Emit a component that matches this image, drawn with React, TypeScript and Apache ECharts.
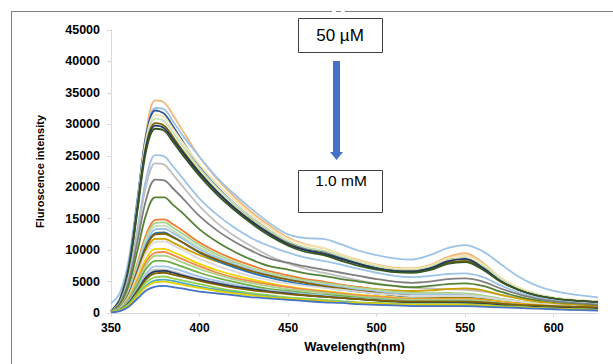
import React, { useEffect, useRef } from "react";
import * as echarts from "echarts";

const wavelengths = [350, 355, 360, 365, 370, 375, 380, 385, 390, 400, 410, 420, 430, 440, 450, 460, 470, 480, 490, 500, 510, 520, 530, 540, 550, 560, 570, 580, 590, 600, 610, 625];

const xTicks = [350, 400, 450, 500, 550, 600];

const s01 = [300, 2000, 7000, 17500, 29000, 33800, 33500, 31500, 29200, 24800, 21300, 18400, 15900, 13800, 12000, 10900, 10300, 9300, 8400, 7700, 7200, 7100, 7600, 8900, 9500, 8000, 5600, 4000, 3000, 2400, 2100, 1700];
const s02 = [1500, 3200, 8500, 18500, 28500, 32600, 32400, 30500, 28400, 24800, 21500, 18800, 16400, 14200, 12500, 11900, 11800, 10900, 9900, 9200, 8700, 8500, 9200, 10300, 10800, 9800, 7800, 5800, 4400, 3500, 3000, 2500];
const s03 = [300, 2200, 7500, 18000, 28500, 32200, 31700, 29700, 27500, 23300, 20000, 17300, 15000, 13000, 11300, 10300, 9800, 8800, 7900, 7200, 6800, 6700, 7200, 8400, 8700, 7100, 5100, 3800, 2900, 2400, 2100, 1800];
const s04 = [300, 2100, 7300, 17600, 27900, 31500, 31100, 29300, 27300, 23600, 20500, 17900, 15500, 13500, 11800, 10800, 10300, 9300, 8300, 7600, 7100, 7000, 7500, 8700, 9100, 7800, 5600, 4100, 3100, 2500, 2200, 1800];
const s05 = [300, 2000, 7000, 17000, 27300, 30900, 30500, 28700, 26700, 23000, 19900, 17300, 15000, 13000, 11400, 10400, 9900, 9000, 8100, 7400, 6900, 6800, 7300, 8400, 8700, 7500, 5400, 3900, 3000, 2400, 2100, 1700];
const s06 = [300, 2000, 7000, 16800, 26800, 30200, 29800, 28000, 26000, 22400, 19300, 16700, 14500, 12600, 11000, 10000, 9500, 8600, 7800, 7100, 6700, 6600, 7000, 8000, 8300, 7000, 5000, 3700, 2800, 2300, 2000, 1700];
const s07 = [300, 2100, 7200, 17000, 26600, 29800, 29400, 27600, 25700, 22200, 19200, 16600, 14400, 12500, 10900, 10000, 9400, 8600, 7800, 7100, 6700, 6600, 7100, 8200, 8600, 7200, 5100, 3700, 2800, 2300, 2000, 1700];
const s08 = [300, 1900, 6800, 16400, 26000, 29300, 29000, 27200, 25300, 21800, 18800, 16300, 14100, 12200, 10700, 9700, 9200, 8300, 7500, 6900, 6500, 6400, 6800, 7800, 8100, 6900, 5000, 3700, 2800, 2300, 2000, 1700];
const s09 = [300, 1700, 5800, 13500, 21500, 25100, 24900, 23300, 21600, 18200, 15600, 13500, 11800, 10600, 9600, 8800, 8300, 7700, 7000, 6400, 5900, 5700, 5900, 6200, 6300, 5700, 4400, 3300, 2500, 2000, 1700, 1400];
const s10 = [300, 1600, 5500, 12800, 20400, 23800, 23600, 22000, 20300, 17000, 14300, 12200, 10500, 9000, 7900, 7000, 6400, 5800, 5200, 4700, 4300, 4000, 3900, 3800, 3700, 3400, 2900, 2400, 2000, 1700, 1500, 1300];
const s11 = [300, 1500, 5000, 11500, 18200, 21200, 21100, 19800, 18400, 15400, 13100, 11300, 9800, 8600, 8000, 7400, 6900, 6400, 5900, 5400, 5000, 4800, 5000, 5400, 5500, 5000, 3900, 3000, 2300, 1900, 1600, 1300];
const s12 = [200, 1300, 4400, 10000, 15800, 18400, 18400, 17200, 16000, 13300, 11300, 9700, 8400, 7400, 6900, 6300, 5900, 5400, 5000, 4600, 4300, 4100, 4300, 4600, 4700, 4300, 3400, 2600, 2000, 1600, 1400, 1100];
const s13 = [200, 900, 2900, 6500, 10100, 11800, 11800, 11200, 10500, 9200, 8200, 7300, 6600, 6000, 5500, 5100, 4800, 4400, 4100, 3800, 3600, 3500, 3600, 3800, 3900, 3600, 2900, 2300, 1800, 1500, 1300, 1100];
const s14 = [200, 1000, 3500, 8000, 12600, 14800, 14900, 14100, 13200, 11200, 9700, 8500, 7500, 6600, 6000, 5400, 5000, 4500, 4100, 3700, 3400, 3200, 3100, 3000, 2900, 2600, 2200, 1800, 1500, 1300, 1100, 900];
const s15 = [200, 1000, 3400, 7700, 12200, 14300, 14400, 13600, 12700, 10800, 9300, 8100, 7100, 6300, 5700, 5200, 4800, 4400, 4000, 3700, 3400, 3200, 3200, 3200, 3100, 2800, 2300, 1900, 1500, 1300, 1100, 900];
const s16 = [200, 900, 3200, 7400, 11700, 13800, 13900, 13100, 12200, 10400, 9000, 7800, 6900, 6100, 5500, 5000, 4600, 4200, 3800, 3500, 3200, 3000, 3000, 3000, 2900, 2600, 2200, 1800, 1500, 1200, 1000, 800];
const s17 = [200, 900, 3100, 7100, 11300, 13300, 13400, 12700, 11900, 10100, 8800, 7700, 6800, 6000, 5400, 4900, 4500, 4100, 3700, 3400, 3100, 2900, 2900, 2900, 2800, 2500, 2100, 1700, 1400, 1200, 1000, 800];
const s18 = [200, 900, 3000, 6800, 10800, 12700, 12800, 12100, 11300, 9600, 8300, 7200, 6300, 5600, 5000, 4500, 4100, 3700, 3400, 3100, 2800, 2600, 2600, 2600, 2500, 2300, 1900, 1600, 1300, 1100, 900, 700];
const s19 = [200, 900, 2900, 6700, 10600, 12500, 12600, 12000, 11300, 9700, 8500, 7500, 6600, 5900, 5300, 4800, 4300, 3900, 3500, 3200, 2900, 2700, 2600, 2500, 2400, 2200, 1900, 1600, 1400, 1200, 1100, 1000];
const s20 = [200, 800, 2700, 6200, 9700, 11300, 11400, 10800, 10100, 8600, 7500, 6600, 5800, 5200, 4700, 4300, 4000, 3700, 3400, 3100, 2900, 2700, 2700, 2700, 2700, 2500, 2100, 1800, 1500, 1300, 1100, 900];
const s21 = [200, 700, 2400, 5500, 8700, 10200, 10200, 9700, 9100, 7800, 6800, 6000, 5300, 4700, 4200, 3800, 3500, 3200, 2900, 2700, 2500, 2300, 2300, 2300, 2300, 2100, 1800, 1500, 1300, 1100, 900, 800];
const s22 = [200, 700, 2300, 5200, 8200, 9600, 9700, 9200, 8600, 7400, 6400, 5600, 5000, 4500, 4100, 3700, 3400, 3100, 2800, 2600, 2400, 2200, 2200, 2200, 2200, 2000, 1700, 1400, 1200, 1000, 900, 700];
const s23 = [200, 700, 2200, 4900, 7700, 9100, 9100, 8700, 8100, 7000, 6100, 5300, 4700, 4200, 3800, 3500, 3200, 2900, 2600, 2400, 2200, 2100, 2100, 2100, 2100, 1900, 1600, 1300, 1100, 900, 800, 700];
const s24 = [200, 600, 2000, 4500, 7100, 8300, 8300, 7900, 7400, 6400, 5600, 4900, 4300, 3800, 3500, 3200, 2900, 2700, 2400, 2200, 2000, 1900, 1900, 1900, 1900, 1700, 1500, 1200, 1000, 900, 800, 600];
const s25 = [200, 600, 1800, 4000, 6300, 7400, 7400, 7100, 6700, 5800, 5100, 4500, 4000, 3600, 3300, 3000, 2800, 2500, 2300, 2100, 1900, 1800, 1800, 1800, 1800, 1600, 1400, 1200, 1000, 900, 800, 600];
const s26 = [200, 500, 1700, 3700, 5900, 6900, 6900, 6600, 6200, 5400, 4800, 4200, 3800, 3400, 3100, 2800, 2600, 2400, 2200, 2000, 1800, 1700, 1700, 1700, 1700, 1500, 1300, 1100, 900, 800, 700, 600];
const s27 = [200, 500, 1600, 3600, 5700, 6600, 6700, 6400, 6000, 5300, 4700, 4200, 3800, 3400, 3100, 2800, 2600, 2400, 2200, 2000, 1800, 1700, 1700, 1700, 1600, 1500, 1300, 1100, 1000, 900, 800, 700];
const s28 = [200, 500, 1500, 3400, 5400, 6300, 6400, 6100, 5800, 5100, 4500, 4000, 3600, 3300, 3000, 2800, 2600, 2400, 2200, 2000, 1900, 1800, 1800, 1800, 1800, 1700, 1500, 1300, 1200, 1100, 1000, 900];
const s29 = [200, 500, 1400, 3100, 4900, 5700, 5800, 5500, 5200, 4600, 4000, 3500, 3100, 2800, 2500, 2300, 2100, 1900, 1700, 1600, 1500, 1400, 1400, 1400, 1400, 1300, 1100, 1000, 800, 700, 600, 500];
const s30 = [200, 400, 1300, 2800, 4400, 5200, 5300, 5100, 4800, 4200, 3700, 3300, 2900, 2600, 2300, 2100, 1900, 1800, 1600, 1500, 1400, 1300, 1300, 1300, 1300, 1200, 1000, 900, 800, 700, 600, 500];
const s31 = [200, 400, 1200, 2700, 4200, 4900, 5000, 4800, 4500, 4000, 3500, 3100, 2800, 2500, 2300, 2100, 1900, 1700, 1600, 1500, 1400, 1300, 1300, 1300, 1300, 1200, 1000, 900, 800, 700, 600, 500];
const s32 = [100, 300, 1000, 2300, 3600, 4200, 4300, 4100, 3900, 3400, 3100, 2800, 2500, 2300, 2100, 1900, 1700, 1600, 1400, 1300, 1200, 1100, 1100, 1100, 1100, 1000, 900, 800, 700, 600, 500, 400];

const seriesValues = [s01, s02, s03, s04, s05, s06, s07, s08, s09, s10, s11, s12, s13, s14, s15, s16, s17, s18, s19, s20, s21, s22, s23, s24, s25, s26, s27, s28, s29, s30, s31, s32];

const seriesColors = [
  "#F2B77A", "#9DC3E6", "#2F5597", "#F6E3B0", "#C5E0B4", "#7F6000", "#1F3864", "#385723",
  "#9DC3E6", "#BFBFBF", "#7F7F7F", "#548235", "#C9A100", "#ED7D31", "#A9D18E", "#C5E0B4",
  "#9DC3E6", "#2E75B6", "#806000", "#D9D9D9", "#F2D400", "#F4884A", "#A9D18E", "#70AD47",
  "#9DC3E6", "#BFBFBF", "#203864", "#806000", "#92D050", "#4BACC6", "#E2D000", "#4472C4",
];

export default function App() {
  const ref = useRef<HTMLDivElement>(null);

  useEffect(() => {
    if (!ref.current) return;
    const chart = echarts.init(ref.current, undefined, { renderer: "svg" });
    const series = seriesValues.map((vals, i) => ({
      type: "line",
      name: "c" + (i + 1),
      data: vals.map((v, j) => [wavelengths[j], v]),
      smooth: 0.35,
      symbol: "none",
      lineStyle: { color: seriesColors[i], width: 1.8 },
      itemStyle: { color: seriesColors[i] },
      z: 2,
    }));

    chart.setOption({
      animation: false,
      backgroundColor: "#ffffff",
      grid: { left: 111, right: 15, top: 30, bottom: 51 },
      xAxis: {
        type: "value",
        min: 350,
        max: 625,
        interval: 50,
        name: "Wavelength(nm)",
        nameLocation: "middle",
        nameGap: 27,
        nameTextStyle: { fontFamily: "Liberation Sans", fontWeight: "bold", fontSize: 13, color: "#000" },
        axisLine: { show: true, lineStyle: { color: "#D9D9D9", width: 1 } },
        axisTick: { show: true, length: 4, lineStyle: { color: "#D9D9D9" }, customValues: xTicks },
        axisLabel: {
          customValues: xTicks,
          fontFamily: "Liberation Sans",
          fontWeight: "bold",
          fontSize: 12,
          color: "#000",
          margin: 9,
          formatter: (v: number) => String(v),
        },
        splitLine: { show: false },
      },
      yAxis: {
        type: "value",
        min: 0,
        max: 45000,
        interval: 5000,
        name: "Fluroscence intensity",
        nameLocation: "middle",
        nameGap: 66,
        nameTextStyle: { fontFamily: "Liberation Sans", fontWeight: "bold", fontSize: 11, color: "#000" },
        axisLine: { show: true, lineStyle: { color: "#D9D9D9", width: 1 } },
        axisTick: { show: true, length: 4, lineStyle: { color: "#D9D9D9" } },
        axisLabel: {
          fontFamily: "Liberation Sans",
          fontWeight: "bold",
          fontSize: 12.5,
          color: "#000",
          margin: 11,
          formatter: (v: number) => String(v),
        },
        splitLine: { show: false },
      },
      graphic: [
        { type: "line", shape: { x1: 11, y1: 11.5, x2: 332, y2: 11.5 }, style: { stroke: "#7F7F7F", lineWidth: 1 } },
        { type: "line", shape: { x1: 336, y1: 11.5, x2: 341, y2: 11.5 }, style: { stroke: "#7F7F7F", lineWidth: 1 } },
        { type: "line", shape: { x1: 345, y1: 11.5, x2: 613, y2: 11.5 }, style: { stroke: "#7F7F7F", lineWidth: 1 } },
        { type: "line", shape: { x1: 11.5, y1: 11, x2: 11.5, y2: 364 }, style: { stroke: "#7F7F7F", lineWidth: 1 } },
        {
          type: "rect",
          shape: { x: 298.5, y: 18.5, width: 84, height: 34 },
          style: { fill: "#fff", stroke: "#404040", lineWidth: 1 },
          z: 10,
        },
        {
          type: "text",
          x: 340,
          y: 35,
          style: { text: "50 µM", fontFamily: "Liberation Sans", fontSize: 17, fill: "#000", align: "center", verticalAlign: "middle" },
          z: 11,
        },
        {
          type: "rect",
          shape: { x: 333, y: 61, width: 7, height: 92 },
          style: { fill: "#4472C4" },
          z: 10,
        },
        {
          type: "polygon",
          shape: { points: [[330, 152], [343, 152], [336.5, 160]] },
          style: { fill: "#4472C4" },
          z: 10,
        },
        {
          type: "rect",
          shape: { x: 298.5, y: 170.5, width: 84, height: 42 },
          style: { fill: "#fff", stroke: "#404040", lineWidth: 1 },
          z: 10,
        },
        {
          type: "text",
          x: 341,
          y: 180,
          style: { text: "1.0 mM", fontFamily: "Liberation Sans", fontSize: 15.5, fill: "#000", align: "center", verticalAlign: "middle" },
          z: 11,
        },
      ],
      series,
    });

    return () => chart.dispose();
  }, []);

  return (
    <div
      ref={ref}
      style={{ position: "fixed", left: 0, top: 0, width: 613, height: 364, background: "#fff" }}
    />
  );
}
